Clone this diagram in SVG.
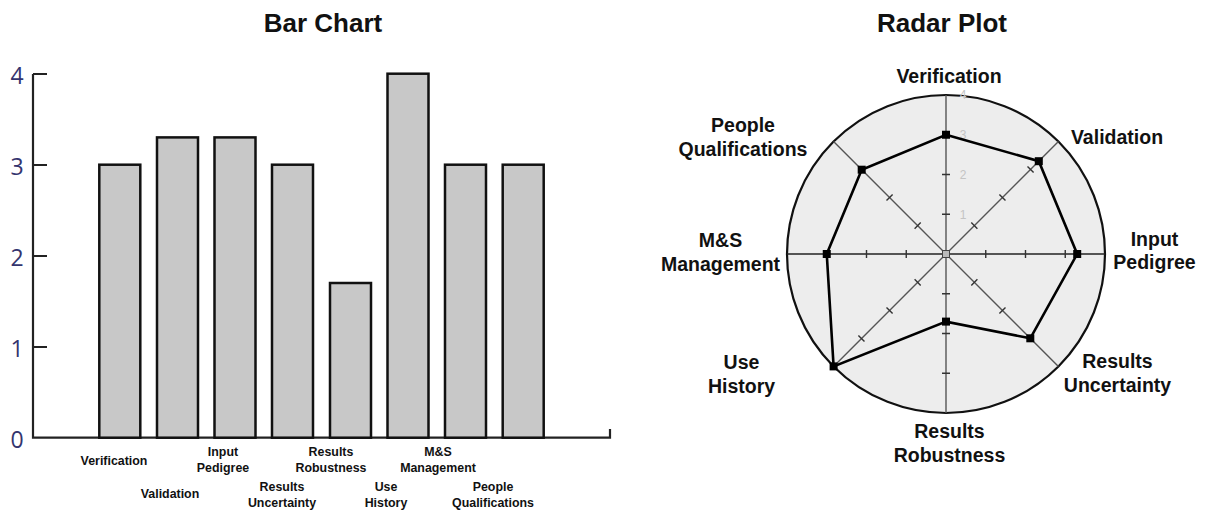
<svg xmlns="http://www.w3.org/2000/svg" width="1211" height="510" viewBox="0 0 1211 510">
<style>
.title{font-family:"Liberation Sans",Arial,sans-serif;font-weight:bold;font-size:26px;fill:#111;text-anchor:middle}
.blab{font-family:"Liberation Sans",Arial,sans-serif;font-weight:bold;font-size:12.4px;fill:#111;text-anchor:middle}
.rlab{font-family:"Liberation Sans",Arial,sans-serif;font-weight:bold;font-size:19.5px;fill:#111;text-anchor:middle}
.ylab{font-family:"Open Sans","Liberation Sans",sans-serif;font-size:23px;fill:#34346e;text-anchor:middle}
.rtick{font-family:"Liberation Sans",Arial,sans-serif;font-size:12px;fill:#c4c4c4;text-anchor:middle}
.bar{fill:#c8c8c8;stroke:#111;stroke-width:2.5}
.axis{stroke:#222;stroke-width:2.2;fill:none}
.raxis{stroke:#555;stroke-width:1.4;fill:none}
.tick{stroke:#333;stroke-width:1.4;fill:none}
.pt{fill:#000}
</style>
<rect width="1211" height="510" fill="#fff"/>

<g id="bar-chart">
<text class="title" x="323" y="32">Bar Chart</text>
<g id="bar-axes">
<path class="axis" d="M33,74 V437.7 H610 V429"/>
<path class="axis" d="M33,74 H47 M33,165 H47 M33,256 H47 M33,347 H47"/>
<text class="ylab" x="17" y="83.5">4</text>
<text class="ylab" x="17" y="174.5">3</text>
<text class="ylab" x="17" y="265.5">2</text>
<text class="ylab" x="17" y="356.5">1</text>
<text class="ylab" x="17" y="447.5">0</text>
</g>
<g id="bar-verification">
<rect class="bar" x="99.3" y="164.7" width="41" height="273"/>
<text class="blab" x="114" y="465">Verification</text>
</g>
<g id="bar-validation">
<rect class="bar" x="157" y="137.4" width="41" height="300.3"/>
<text class="blab" x="170" y="497.5">Validation</text>
</g>
<g id="bar-input-pedigree">
<rect class="bar" x="214.5" y="137.4" width="41" height="300.3"/>
<text class="blab" x="223" y="456">Input</text>
<text class="blab" x="223" y="471.5">Pedigree</text>
</g>
<g id="bar-results-uncertainty">
<rect class="bar" x="272" y="164.7" width="41" height="273"/>
<text class="blab" x="282" y="491">Results</text>
<text class="blab" x="282" y="506.5">Uncertainty</text>
</g>
<g id="bar-results-robustness">
<rect class="bar" x="330" y="283" width="41" height="154.7"/>
<text class="blab" x="331" y="456">Results</text>
<text class="blab" x="331" y="471.5">Robustness</text>
</g>
<g id="bar-use-history">
<rect class="bar" x="387.5" y="73.7" width="41" height="364"/>
<text class="blab" x="386" y="491">Use</text>
<text class="blab" x="386" y="506.5">History</text>
</g>
<g id="bar-ms-management">
<rect class="bar" x="445" y="164.7" width="41" height="273"/>
<text class="blab" x="438" y="456">M&amp;S</text>
<text class="blab" x="438" y="471.5">Management</text>
</g>
<g id="bar-people-qualifications">
<rect class="bar" x="502.7" y="164.7" width="41" height="273"/>
<text class="blab" x="493" y="491">People</text>
<text class="blab" x="493" y="506.5">Qualifications</text>
</g>
</g>

<g id="radar-plot">
<text class="title" x="942" y="32">Radar Plot</text>
<g id="radar-grid">
<circle cx="946" cy="254" r="159" fill="#ededed" stroke="#111" stroke-width="2.2"/>
<path class="raxis" d="M946,95 V413"/>
<path stroke="#222" stroke-width="1.6" fill="none" d="M787,254 H1105"/>
<path class="raxis" stroke-width="1.1" d="M833.57,141.57 L1058.43,366.43 M1058.43,141.57 L833.57,366.43"/>
<path class="tick" d="M942,214.25 H950 M942,174.5 H950 M942,134.75 H950 M942,293.75 H950 M942,333.5 H950 M942,373.25 H950"/>
<path class="tick" d="M985.75,250 V258 M1025.5,250 V258 M1065.25,250 V258 M906.25,250 V258 M866.5,250 V258 M826.75,250 V258"/>
<g class="tick" stroke-width="1.1">
<path d="M971.3,222.6 L977.4,228.7 M999.4,194.5 L1005.5,200.6 M1027.5,166.4 L1033.6,172.5"/>
<path d="M914.6,228.7 L920.7,222.6 M886.5,200.6 L892.6,194.5 M858.4,172.5 L864.5,166.4"/>
<path d="M971.3,285.4 L977.4,279.3 M999.4,313.5 L1005.5,307.4 M1027.5,341.6 L1033.6,335.5"/>
<path d="M914.6,279.3 L920.7,285.4 M886.5,307.4 L892.6,313.5 M858.4,335.5 L864.5,341.6"/>
</g>
<text class="rtick" x="963" y="219">1</text>
<text class="rtick" x="963" y="179">2</text>
<text class="rtick" x="963" y="139">3</text>
<text class="rtick" x="963" y="99">4</text>
<rect x="942.5" y="250.5" width="7" height="7" fill="#bbb" stroke="#444" stroke-width="1"/>
</g>
<g id="radar-series">
<polygon fill="none" stroke="#000" stroke-width="2.6" stroke-linejoin="miter" points="946,134.75 1038.8,161.2 1077.2,254 1030.3,338.3 946,321.6 833.6,366.4 826.75,254 861.7,169.7"/>
<rect class="pt" x="942" y="130.75" width="8" height="8"/>
<rect class="pt" x="1034.8" y="157.2" width="8" height="8"/>
<rect class="pt" x="1073.2" y="250" width="8" height="8"/>
<rect class="pt" x="1026.3" y="334.3" width="8" height="8"/>
<rect class="pt" x="942" y="317.6" width="8" height="8"/>
<rect class="pt" x="829.6" y="362.4" width="8" height="8"/>
<rect class="pt" x="822.75" y="250" width="8" height="8"/>
<rect class="pt" x="857.7" y="165.7" width="8" height="8"/>
</g>
<g id="radar-verification"><text class="rlab" x="949" y="82.5">Verification</text></g>
<g id="radar-validation"><text class="rlab" x="1117" y="144">Validation</text></g>
<g id="radar-input-pedigree"><text class="rlab" x="1154.5" y="245.5">Input</text><text class="rlab" x="1154.5" y="269">Pedigree</text></g>
<g id="radar-results-uncertainty"><text class="rlab" x="1117.5" y="368">Results</text><text class="rlab" x="1117.5" y="392">Uncertainty</text></g>
<g id="radar-results-robustness"><text class="rlab" x="949.5" y="438">Results</text><text class="rlab" x="949.5" y="462">Robustness</text></g>
<g id="radar-use-history"><text class="rlab" x="741.5" y="368.5">Use</text><text class="rlab" x="741.5" y="392.5">History</text></g>
<g id="radar-ms-management"><text class="rlab" x="720.5" y="246.5">M&amp;S</text><text class="rlab" x="720.5" y="270.5">Management</text></g>
<g id="radar-people-qualifications"><text class="rlab" x="743" y="132">People</text><text class="rlab" x="743" y="155.5">Qualifications</text></g>
</g>
</svg>
